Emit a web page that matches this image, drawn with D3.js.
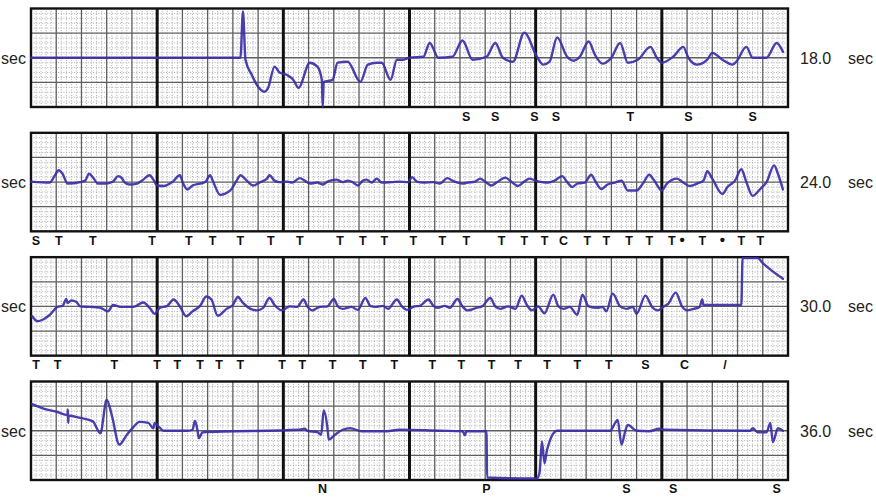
<!DOCTYPE html>
<html><head><meta charset="utf-8">
<script src="https://cdn.jsdelivr.net/npm/d3@7"></script>
<style>html,body{margin:0;padding:0;background:#fff;}svg{display:block;}</style>
</head><body>
<script>
// Time (s within strip, 0-6) and amplitude (mV) for each strip
const strip1 = [[0,0],[1.62,0],[1.66,0],[1.68,0.94],[1.70,-0.04],[1.75,-0.35],[1.80,-0.59],[1.85,-0.69],[1.88,-0.61],[1.93,-0.18],[1.97,-0.30],[2.03,-0.35],[2.08,-0.45],[2.12,-0.61],[2.21,-0.10],[2.27,-0.18],[2.305,-0.45],[2.312,-1.0],[2.32,-0.49],[2.39,-0.45],[2.43,-0.10],[2.51,-0.08],[2.61,-0.49],[2.67,-0.14],[2.74,-0.10],[2.78,-0.10],[2.85,-0.45],[2.90,-0.04],[2.95,-0.04],[3.00,0],[3.11,0.02],[3.16,0.30],[3.23,0],[3.34,0.02],[3.42,0.35],[3.50,-0.04],[3.61,0.02],[3.68,0.30],[3.74,0],[3.82,-0.08],[3.91,0.51],[4.01,0.02],[4.06,-0.14],[4.11,-0.08],[4.17,0.41],[4.25,0.02],[4.30,-0.06],[4.35,0.02],[4.42,0.33],[4.47,0.06],[4.53,-0.12],[4.60,0],[4.67,0.30],[4.73,-0.10],[4.81,-0.04],[4.91,0.22],[4.96,0],[5.00,-0.10],[5.09,0.02],[5.17,0.22],[5.21,0],[5.28,-0.14],[5.36,-0.04],[5.40,0.10],[5.48,-0.04],[5.56,-0.14],[5.59,-0.08],[5.67,0.22],[5.72,0],[5.83,0],[5.91,0.30],[5.96,0.12]];
const strip2 = [[0,0.01],[0.15,-0.01],[0.19,0.14],[0.22,0.24],[0.25,0.17],[0.29,-0.03],[0.39,0],[0.43,0.03],[0.46,0.17],[0.49,0.10],[0.53,-0.03],[0.60,-0.03],[0.65,0.01],[0.69,0.12],[0.72,0.08],[0.74,0],[0.78,-0.05],[0.84,-0.03],[0.88,0.03],[0.94,0.14],[0.97,0.05],[1.00,-0.07],[1.05,-0.08],[1.12,0],[1.18,0.14],[1.20,0.01],[1.24,-0.15],[1.28,-0.07],[1.34,-0.03],[1.38,0],[1.42,0.14],[1.44,0.03],[1.50,-0.26],[1.58,-0.17],[1.63,0.03],[1.66,0.14],[1.71,0.03],[1.76,-0.07],[1.81,-0.01],[1.87,0.07],[1.89,0.14],[1.93,0.03],[1.97,0],[2.03,0.01],[2.07,-0.01],[2.13,0.08],[2.17,0.03],[2.21,-0.03],[2.27,-0.01],[2.31,-0.05],[2.35,0.01],[2.42,0.05],[2.47,0],[2.51,0.03],[2.55,0],[2.59,-0.07],[2.63,0.03],[2.66,0.05],[2.70,-0.01],[2.74,0.07],[2.78,-0.01],[2.86,0],[2.92,0.01],[2.99,0],[3.02,0.10],[3.06,0.01],[3.11,-0.01],[3.19,0],[3.24,-0.03],[3.30,0.08],[3.34,0.03],[3.42,-0.03],[3.46,-0.01],[3.52,0.01],[3.56,0.07],[3.60,0.01],[3.65,-0.07],[3.69,-0.01],[3.76,0.09],[3.81,0],[3.86,-0.08],[3.91,0.01],[3.95,0.07],[4.00,0.03],[4.05,0],[4.10,-0.01],[4.15,0.03],[4.21,0.12],[4.25,0],[4.29,-0.10],[4.33,-0.03],[4.39,-0.01],[4.44,0.15],[4.47,0.03],[4.52,-0.14],[4.57,-0.05],[4.63,-0.01],[4.68,0.03],[4.73,-0.17],[4.80,-0.17],[4.85,-0.03],[4.90,0.15],[4.94,0.03],[5.00,-0.17],[5.04,-0.03],[5.12,0.07],[5.17,-0.01],[5.22,-0.08],[5.28,-0.03],[5.33,0.03],[5.36,0.22],[5.40,0.07],[5.48,-0.24],[5.52,-0.10],[5.58,0.03],[5.63,0.26],[5.67,0],[5.72,-0.28],[5.78,-0.14],[5.83,0],[5.89,0.34],[5.92,0.17],[5.96,-0.15]];
const strip3 = [[0.01,-0.20],[0.05,-0.30],[0.10,-0.26],[0.15,-0.17],[0.21,-0.01],[0.25,0.01],[0.28,0.15],[0.29,0.07],[0.32,0.12],[0.36,0.09],[0.39,0],[0.47,-0.01],[0.55,-0.03],[0.61,-0.10],[0.65,0.03],[0.71,-0.01],[0.81,-0.01],[0.89,0.08],[0.94,-0.03],[0.98,-0.15],[1.02,-0.03],[1.08,0.01],[1.13,0.14],[1.18,0],[1.23,-0.20],[1.28,-0.10],[1.34,0.01],[1.39,0.20],[1.43,0.14],[1.48,-0.19],[1.55,-0.05],[1.60,0.03],[1.64,0.19],[1.68,0.07],[1.74,-0.05],[1.79,-0.08],[1.84,-0.03],[1.89,0.17],[1.93,0.03],[1.99,-0.08],[2.05,0],[2.11,-0.01],[2.16,0.14],[2.19,0],[2.23,-0.08],[2.29,-0.01],[2.35,0],[2.40,0.15],[2.43,0.01],[2.47,-0.05],[2.54,-0.01],[2.59,-0.07],[2.65,0.17],[2.69,0.01],[2.73,-0.01],[2.79,0.01],[2.83,-0.05],[2.90,0.14],[2.94,0],[2.98,-0.07],[3.04,0],[3.08,0.01],[3.15,0.14],[3.19,0.01],[3.22,-0.03],[3.28,0.01],[3.32,-0.03],[3.38,0.15],[3.42,0],[3.46,-0.08],[3.53,-0.03],[3.58,0.01],[3.64,0.17],[3.68,0],[3.72,-0.05],[3.78,0],[3.84,-0.05],[3.89,0.22],[3.93,0.03],[3.97,-0.08],[4.02,0],[4.07,-0.14],[4.14,0.24],[4.18,0],[4.22,-0.05],[4.27,-0.01],[4.33,-0.17],[4.37,0.24],[4.42,0],[4.49,-0.03],[4.53,-0.01],[4.56,-0.10],[4.61,0.26],[4.67,0],[4.72,-0.05],[4.77,-0.01],[4.80,-0.15],[4.87,0.22],[4.92,0],[4.97,-0.08],[5.01,-0.01],[5.05,0.05],[5.11,0.28],[5.16,0],[5.20,-0.08],[5.25,-0.05],[5.30,-0.01],[5.32,0.14],[5.33,0.03],[5.63,0.03],[5.64,0.98],[5.76,0.98],[5.80,0.88],[5.96,0.56]];
const strip4 = [[0.01,0.54],[0.10,0.45],[0.21,0.38],[0.29,0.32],[0.292,0.43],[0.295,0.16],[0.298,0.31],[0.39,0.26],[0.49,0.19],[0.55,-0.05],[0.60,0.63],[0.64,0.32],[0.70,-0.28],[0.76,-0.08],[0.81,0.07],[0.86,0.18],[0.93,0.16],[0.97,0.05],[0.98,0.16],[1.01,0.09],[1.05,0],[1.24,0],[1.28,0.02],[1.30,0.20],[1.32,0],[1.33,-0.15],[1.36,-0.03],[2.13,0.02],[2.17,0.04],[2.19,0],[2.27,-0.03],[2.30,-0.08],[2.32,0.41],[2.35,0.05],[2.36,-0.18],[2.41,-0.08],[2.47,0.02],[2.53,0.05],[2.62,-0.01],[2.82,-0.01],[2.92,0.02],[3.24,0],[3.42,-0.01],[3.44,-0.09],[3.45,-0.01],[3.61,-0.01],[3.615,-0.95],[4.01,-0.97],[4.03,-0.86],[4.05,-0.22],[4.07,-0.66],[4.09,-0.39],[4.17,0],[4.59,0],[4.63,0.16],[4.65,0.22],[4.68,-0.28],[4.71,-0.01],[4.73,0.12],[4.80,0],[4.90,-0.01],[4.98,0.04],[5.02,0.02],[5.70,0],[5.72,0.05],[5.76,-0.03],[5.83,-0.03],[5.86,0.16],[5.88,-0.23],[5.92,0.05],[5.96,0]];

// Beat annotations: [time, mark]
const marks1 = [[3.45,"S"],[3.68,"S"],[3.99,"S"],[4.16,"S"],[4.75,"T"],[5.21,"S"],[5.72,"S"]];
const marks2 = [[0.04,"S"],[0.22,"T"],[0.49,"T"],[0.96,"T"],[1.25,"T"],[1.44,"T"],[1.66,"T"],[1.90,"T"],[2.13,"T"],[2.45,"T"],[2.63,"T"],[2.80,"T"],[3.03,"T"],[3.26,"T"],[3.45,"T"],[3.73,"T"],[3.91,"T"],[4.07,"T"],[4.22,"C"],[4.41,"T"],[4.56,"T"],[4.74,"T"],[4.90,"T"],[5.08,"T"],[5.16,"•"],[5.32,"T"],[5.48,"•"],[5.63,"T"],[5.78,"T"]];
const marks3 = [[0.04,"T"],[0.21,"T"],[0.66,"T"],[1.00,"T"],[1.16,"T"],[1.34,"T"],[1.49,"T"],[1.66,"T"],[1.99,"T"],[2.15,"T"],[2.39,"T"],[2.63,"T"],[2.88,"T"],[3.18,"T"],[3.41,"T"],[3.65,"T"],[3.86,"T"],[4.09,"T"],[4.33,"T"],[4.58,"T"],[4.87,"S"],[5.18,"C"],[5.50,"/"]];
const marks4 = [[2.31,"N"],[3.61,"P"],[4.72,"S"],[5.09,"S"],[5.91,"S"]];

const startLabels = ["sec", "sec", "sec", "sec"];
const endLabels = ["18.0", "24.0", "30.0", "36.0"];

const strips = [strip1, strip2, strip3, strip4];
const markSets = [marks1, marks2, marks3, marks4];

const W = 876, H = 498;
const svg = d3.select("body").append("svg").attr("width", W).attr("height", H);
const x = d3.scaleLinear().domain([0, 6]).range([31, 788]);
const top0 = 8.5, pitch = 124.33, sh = 98.5;
const font = "Liberation Sans, Arial, sans-serif";

strips.forEach((data, i) => {
  const t0 = top0 + i * pitch;
  const y = d3.scaleLinear().domain([-1, 1]).range([t0 + sh, t0]);
  const g = svg.append("g");
  // minor dotted grid
  const minorX = d3.range(0, 6.0001, 0.04).filter(v => Math.abs(v / 0.2 - Math.round(v / 0.2)) > 1e-6);
  const minorY = d3.range(-1, 1.0001, 0.1).filter(v => Math.abs(v / 0.5 - Math.round(v / 0.5)) > 1e-6);
  g.selectAll(".mx").data(minorX).join("line")
    .attr("x1", d => x(d)).attr("x2", d => x(d)).attr("y1", y(1)).attr("y2", y(-1))
    .attr("stroke", "#ababab").attr("stroke-width", 1).attr("stroke-dasharray", "1,1.7");
  g.selectAll(".my").data(minorY).join("line")
    .attr("x1", x(0)).attr("x2", x(6)).attr("y1", d => y(d)).attr("y2", d => y(d))
    .attr("stroke", "#ababab").attr("stroke-width", 1).attr("stroke-dasharray", "1,1.7");
  // major grid
  const majorX = d3.range(0, 6.0001, 0.2).filter(v => Math.abs(v - Math.round(v)) > 1e-6);
  g.selectAll(".Mx").data(majorX).join("line")
    .attr("x1", d => x(d)).attr("x2", d => x(d)).attr("y1", y(1)).attr("y2", y(-1))
    .attr("stroke", "#5e5e5e").attr("stroke-width", 1.3);
  g.selectAll(".My").data([-0.5, 0, 0.5]).join("line")
    .attr("x1", x(0)).attr("x2", x(6)).attr("y1", d => y(d)).attr("y2", d => y(d))
    .attr("stroke", "#5e5e5e").attr("stroke-width", 1.3);
  // one-second lines
  g.selectAll(".S").data([1, 2, 3, 4, 5]).join("line")
    .attr("x1", d => x(d)).attr("x2", d => x(d)).attr("y1", y(1)).attr("y2", y(-1))
    .attr("stroke", "#111").attr("stroke-width", 3);
  g.append("rect").attr("x", x(0)).attr("y", y(1)).attr("width", x(6) - x(0)).attr("height", y(-1) - y(1))
    .attr("fill", "none").attr("stroke", "#111").attr("stroke-width", 2.4);

  // trace
  const line = d3.line().x(d => x(d[0])).y(d => y(d[1])).curve(d3.curveMonotoneX);
  g.append("path").datum(data).attr("d", line)
    .attr("fill", "none").attr("stroke", "#3a2fa8").attr("stroke-width", 2.4)
    .attr("stroke-linejoin", "round").attr("stroke-linecap", "round").attr("stroke-opacity", 0.92);

  // annotations
  g.selectAll(".mk").data(markSets[i]).join("text")
    .attr("x", d => x(d[0])).attr("y", t0 + sh + 13.5)
    .attr("text-anchor", "middle")
    .attr("font-family", font)
    .attr("font-weight", "bold")
    .attr("font-size", d => d[1] === "•" ? 15 : 12.5)
    .attr("fill", "#111")
    .text(d => d[1]);

  // side labels
  g.append("text").attr("x", 1).attr("y", y(0) + 6)
    .attr("font-family", font)
    .attr("font-size", 16).attr("fill", "#222").text(startLabels[i]);
  g.append("text").attr("x", 800).attr("y", y(0) + 6)
    .attr("font-family", font)
    .attr("font-size", 16).attr("fill", "#222").text(endLabels[i]);
  g.append("text").attr("x", 848).attr("y", y(0) + 6)
    .attr("font-family", font)
    .attr("font-size", 16).attr("fill", "#222").text("sec");
});
</script>
</body></html>
